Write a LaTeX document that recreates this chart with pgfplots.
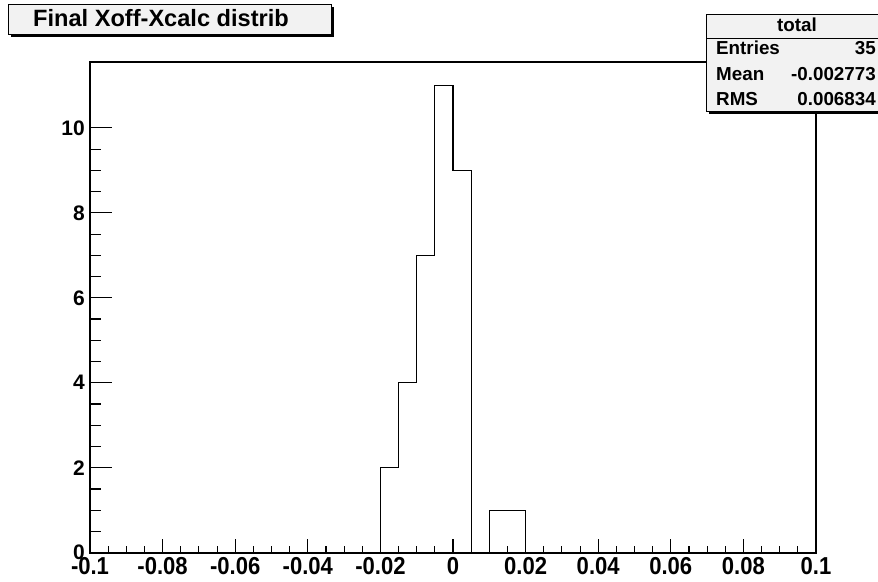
\documentclass[border=0pt]{standalone}
\usepackage{pgfplots}
\pgfplotsset{compat=1.18}
\usepackage{fontspec}
\setmainfont{Liberation Sans}
\definecolor{boxgray}{RGB}{242,242,242}
\begin{document}
\begin{tikzpicture}[x=1pt,y=1pt]
\useasboundingbox (0,0) rectangle (878,581);
\begin{axis}[
  at={(90pt,28.3pt)}, anchor=south west,
  width=726pt, height=490.7pt, scale only axis,
  xmin=-0.1, xmax=0.1, ymin=0, ymax=11.55,
  axis line style={line width=1.6pt},
  tick pos=left,
  xtick={-0.1,-0.08,-0.06,-0.04,-0.02,0,0.02,0.04,0.06,0.08,0.1},
  xticklabels={-0.1,-0.08,-0.06,-0.04,-0.02,0,0.02,0.04,0.06,0.08,0.1},
  ytick={0,2,4,6,8,10},
  yticklabels={0,2,4,6,8,10},
  minor x tick num=3, minor y tick num=3,
  xtick style={line width=1.1pt, black, /pgfplots/major tick length=14pt, /pgfplots/minor tick length=7pt},
  ytick style={line width=1.1pt, black, /pgfplots/major tick length=22pt, /pgfplots/minor tick length=11pt},
  /pgf/number format/assume math mode=true,
  xticklabel style={font=\fontsize{24.5}{24.5}\selectfont\bfseries, inner sep=0pt, yshift=-4pt, xscale=0.9, transform shape},
  yticklabel style={font=\fontsize{21}{21}\selectfont\bfseries, inner sep=0pt, xshift=-5pt},
]
\addplot[const plot, black, line width=1.2pt] coordinates {
  (-0.1,0) (-0.02,2) (-0.015,4) (-0.01,7) (-0.005,11) (0,9) (0.005,0)
  (0.01,1) (0.015,1) (0.02,0) (0.1,0)
};
\end{axis}
% title box
\fill[black] (11,544) rectangle (334,574);
\draw[fill=boxgray, line width=0.8pt] (8,547) rectangle (331,577);
\node[anchor=base, inner sep=0pt, font=\fontsize{23.6}{23.6}\selectfont\bfseries] at (161,554) {Final Xoff-Xcalc distrib};
% stats box
\begin{scope}
\clip (0,0) rectangle (878,581);
\fill[black] (709,467) rectangle (885,564);
\draw[fill=boxgray, line width=0.8pt] (706,470) rectangle (885,567);
\draw[line width=0.8pt] (706,543) -- (885,543);
\end{scope}
\begin{scope}[font=\fontsize{18.8}{18.8}\selectfont\bfseries]
\node[anchor=base, inner sep=0pt] at (797,549) {total};
\node[anchor=base west, inner sep=0pt] at (716,526) {Entries};
\node[anchor=base east, inner sep=0pt] at (876,526) {35};
\node[anchor=base west, inner sep=0pt] at (716,500.5) {Mean};
\node[anchor=base east, inner sep=0pt] at (876,500.5) {-0.002773};
\node[anchor=base west, inner sep=0pt] at (716,475) {RMS};
\node[anchor=base east, inner sep=0pt] at (876,475) {0.006834};
\end{scope}
\end{tikzpicture}
\end{document}
